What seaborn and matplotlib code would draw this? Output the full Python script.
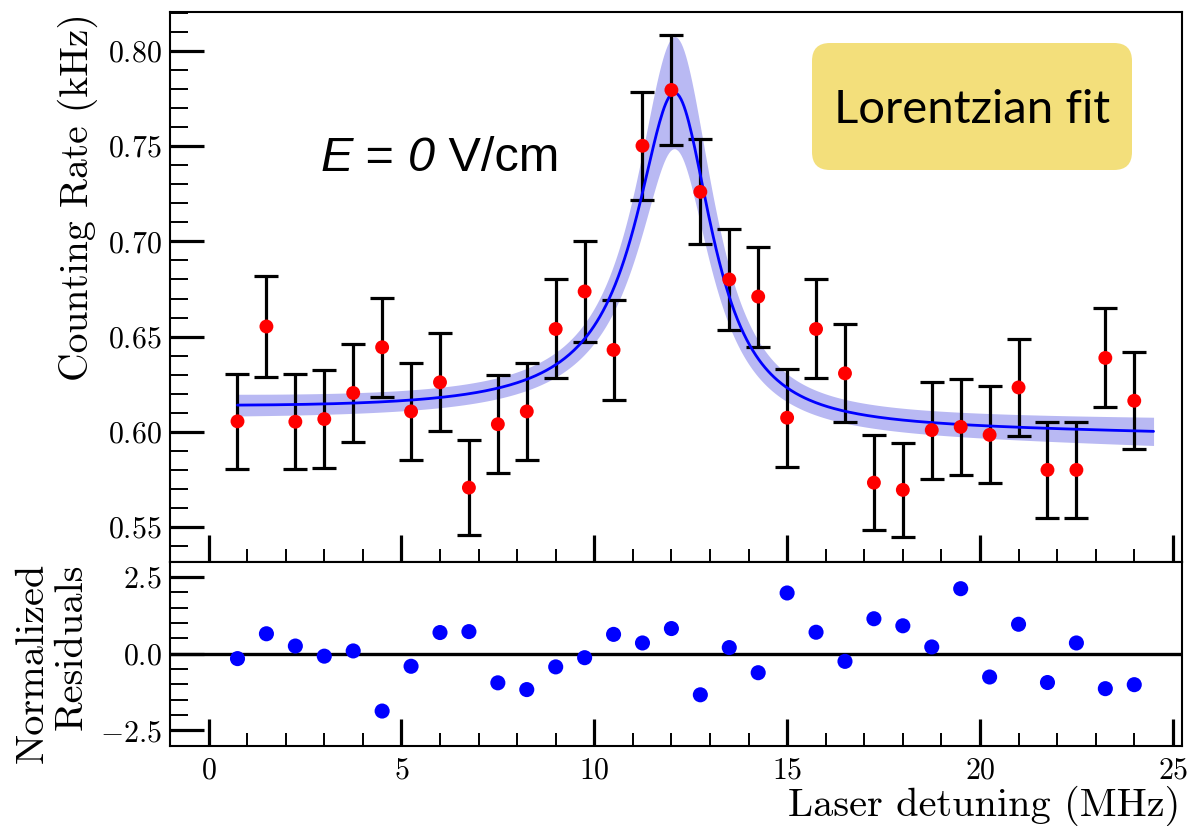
import numpy as np
import pandas as pd
import matplotlib
matplotlib.use("Agg")
import matplotlib.pyplot as plt
import seaborn as sns
from matplotlib.ticker import MultipleLocator
from matplotlib.patches import FancyBboxPatch

# ---------------- data ----------------
detuning = [0.75, 1.5, 2.25, 3.0, 3.75, 4.5, 5.25, 6.0, 6.75, 7.5, 8.25, 9.0,
            9.75, 10.5, 11.25, 12.0, 12.75, 13.5, 14.25, 15.0, 15.75, 16.5,
            17.25, 18.0, 18.75, 19.5, 20.25, 21.0, 21.75, 22.5, 23.25, 24.0]
rate = [0.6055, 0.6553, 0.6053, 0.6067, 0.6204, 0.6444, 0.6107, 0.6260,
        0.5707, 0.6040, 0.6107, 0.6540, 0.6737, 0.6430, 0.7502, 0.7795,
        0.7260, 0.6800, 0.6710, 0.6074, 0.6540, 0.6307, 0.5733, 0.5695,
        0.6009, 0.6026, 0.5984, 0.6233, 0.5800, 0.5800, 0.6388, 0.6163]
rate_err = [0.0250, 0.0263, 0.0250, 0.0257, 0.0257, 0.0260, 0.0256, 0.0257,
            0.0250, 0.0256, 0.0256, 0.0260, 0.0267, 0.0263, 0.0283, 0.0287,
            0.0275, 0.0267, 0.0263, 0.0258, 0.0260, 0.0258, 0.0250, 0.0245,
            0.0255, 0.0253, 0.0254, 0.0257, 0.0252, 0.0252, 0.0260, 0.0254]
residual = [-0.16, 0.65, 0.25, -0.08, 0.09, -1.87, -0.41, 0.69, 0.72, -0.95,
            -1.17, -0.43, -0.13, 0.63, 0.35, 0.82, -1.34, 0.20, -0.62, 1.98,
            0.70, -0.25, 1.14, 0.91, 0.22, 2.12, -0.76, 0.96, -0.94, 0.35,
            -1.14, -1.01]

fit_x0 = 12.15
fit_gamma = 1.2
fit_amp = 0.172
fit_disp = -0.02
fit_base = 0.6055
fit_slope = -0.0004
fit_range = (0.75, 24.5)
band_base = 0.0052
band_amp = 0.029
band_slope = 0.00032
band_center = 0.10

x_ticks_major = [0, 5, 10, 15, 20, 25]
y_ticks_major = [0.55, 0.60, 0.65, 0.70, 0.75, 0.80]
res_ticks_major = [-2.5, 0.0, 2.5]

# ---------------- style ----------------
sns.set_theme(style="white")
plt.rcParams.update({
    "font.family": "serif",
    "font.serif": ["cmr10"],
    "mathtext.fontset": "cm",
    "axes.formatter.use_mathtext": True,
    "axes.unicode_minus": True,
    "axes.edgecolor": "black",
    "axes.linewidth": 1.5,
    "text.color": "black",
    "axes.labelcolor": "black",
    "xtick.color": "black",
    "ytick.color": "black",
})

W, H = 1189, 826
fig = plt.figure(figsize=(W / 100, H / 100), dpi=100)
ax = fig.add_axes([170 / W, 1 - 561.7 / H, 1011.7 / W, 550 / H])
axr = fig.add_axes([170 / W, 1 - 745.7 / H, 1011.7 / W, 184 / H])

# ---------------- fit curve ----------------
xf = np.linspace(fit_range[0], fit_range[1], 600)
dx = xf - fit_x0
den = dx ** 2 + fit_gamma ** 2
lor = fit_gamma ** 2 / den
disp = fit_gamma * dx / den
yf = fit_base + fit_slope * dx + fit_amp * lor + fit_disp * disp
dlor = -2 * dx * fit_gamma ** 2 / den ** 2
sig = np.sqrt(band_base ** 2 + (band_slope * (xf - 8.0)) ** 2
              + (band_amp * lor) ** 2 + (band_center * fit_amp * dlor) ** 2)

df = pd.DataFrame({"detuning": detuning, "rate": rate, "err": rate_err,
                   "residual": residual})
fit_df = pd.DataFrame({"x": xf, "y": yf})

ax.fill_between(xf, yf - sig, yf + sig, color="#b9b9f3", lw=0, zorder=1)
ax.errorbar(df["detuning"], df["rate"], yerr=df["err"], fmt="none",
            ecolor="black", elinewidth=2.3, capsize=8.3, capthick=2.3, zorder=2)
sns.lineplot(data=fit_df, x="x", y="y", ax=ax, color="#0000ff", lw=2.0,
             zorder=3, sort=False)
sns.scatterplot(data=df, x="detuning", y="rate", ax=ax, color="#ff0000",
                s=100, edgecolor="none", linewidth=0, zorder=4)

# residuals
axr.axhline(0, color="black", lw=2.4, zorder=1)
sns.scatterplot(data=df, x="detuning", y="residual", ax=axr, color="#0000ff",
                s=118, edgecolor="none", linewidth=0, zorder=3)

# ---------------- axes ----------------
for a in (ax, axr):
    a.set_xlim(-1.0, 25.23)
    a.xaxis.set_major_locator(MultipleLocator(5))
    a.xaxis.set_minor_locator(MultipleLocator(1))
    a.set_xlabel("")
    a.set_ylabel("")
    a.tick_params(axis="x", which="major", direction="in", length=19.4,
                  width=2.3, top=False, bottom=True, pad=8, labelsize=21.5,
                  colors="black")
    a.tick_params(axis="x", which="minor", direction="in", length=9.4,
                  width=1.4, top=False, bottom=True, colors="black")
    a.tick_params(axis="y", which="major", direction="in", length=24.5,
                  width=2.3, left=True, right=False, pad=6, labelsize=21.5,
                  colors="black")
    a.tick_params(axis="y", which="minor", direction="in", length=13,
                  width=1.4, left=True, right=False, colors="black")
    for s in a.spines.values():
        s.set_linewidth(1.5)
        s.set_color("black")

ax.set_ylim(0.5318, 0.8206)
ax.set_yticks(y_ticks_major)
ax.yaxis.set_minor_locator(MultipleLocator(0.01))
ax.tick_params(axis="x", labelbottom=False)
ax.ticklabel_format(axis="y", useOffset=False)

axr.set_ylim(-3.0, 3.0)
axr.set_yticks(res_ticks_major)
axr.yaxis.set_minor_locator(MultipleLocator(0.5))
axr.set_xticks(x_ticks_major)

# ---------------- labels ----------------
fig.text(88 / W, 1 - 197 / H, "Counting Rate (kHz)", rotation=90,
         rotation_mode="anchor", ha="center", va="baseline", fontsize=28.5,
         family="cmr10", color="black")
fig.text(43 / W, 1 - 563 / H, "Normalized", rotation=90,
         rotation_mode="anchor", ha="right", va="baseline", fontsize=29,
         family="cmr10", color="black")
fig.text(82 / W, 1 - 563 / H, "Residuals", rotation=90,
         rotation_mode="anchor", ha="right", va="baseline", fontsize=29,
         family="cmr10", color="black")
fig.text(1180 / W, 1 - 816 / H, "Laser detuning (MHz)", ha="right",
         va="baseline", fontsize=29, family="cmr10", color="black")

# "E = 0 V/cm" built from pieces so that E and 0 are italic
efont = dict(fontsize=35, family="Liberation Sans", color="black")
t1 = fig.text(320 / W, 1 - 181 / H, "E", ha="left", va="bottom",
              style="italic", **efont)
t2 = ax.annotate(" = ", xy=(1, 0), xycoords=t1, ha="left", va="bottom",
                 **efont)
t3 = ax.annotate("0", xy=(1, 0), xycoords=t2, ha="left", va="bottom",
                 style="italic", **efont)
t4 = ax.annotate(" V/cm", xy=(1, 0), xycoords=t3, ha="left", va="bottom",
                 **efont)

box = FancyBboxPatch((812 / 100, (H - 170) / 100), 320 / 100, 127 / 100,
                     boxstyle="round,pad=0,rounding_size=0.18",
                     transform=fig.dpi_scale_trans, facecolor="#f3df7b",
                     edgecolor="none", zorder=5)
fig.add_artist(box)
fig.text(972 / W, 1 - 123 / H, "Lorentzian fit", ha="center", va="baseline",
         fontsize=34, family="Lato", fontweight="normal", color="black",
         zorder=6)

fig.savefig("out.png", dpi=100)
